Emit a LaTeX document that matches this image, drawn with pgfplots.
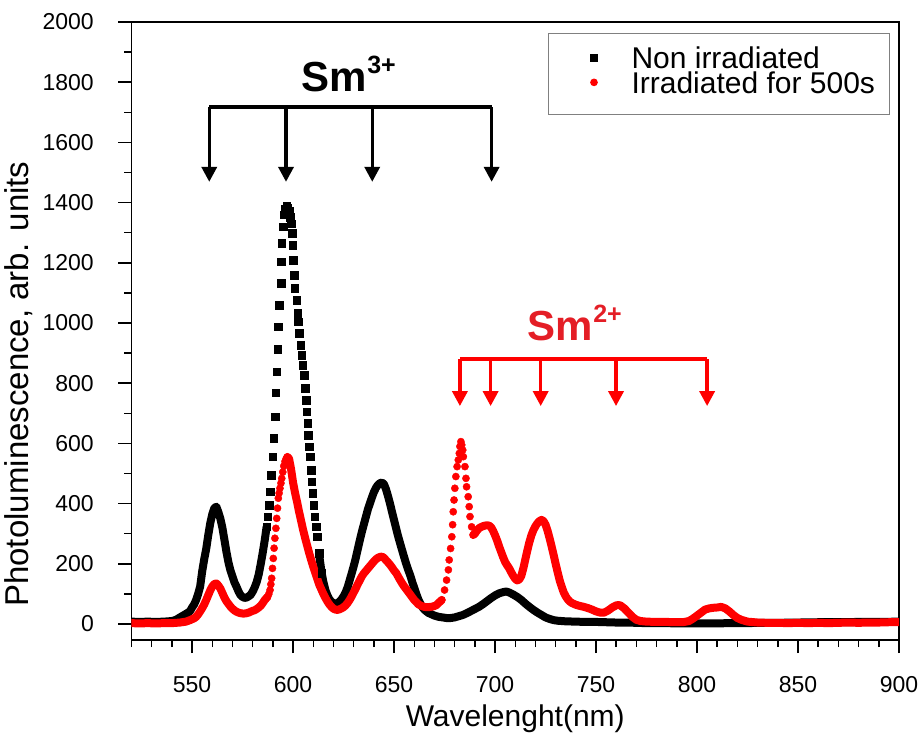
\documentclass[border=0pt]{standalone}
\usepackage{fontspec}
\setmainfont{Liberation Sans}
\usepackage{pgfplots}
\pgfplotsset{compat=1.18}
\usetikzlibrary{arrows.meta}
\definecolor{myred}{RGB}{255,0,0}
\definecolor{smred}{RGB}{228,30,38}
\pgfplotsset{legend image code/.code={\path (-30pt,0pt) (37pt,0pt); \draw[#1, mark size=3.3pt] plot coordinates {(0pt,4pt)};}}
\begin{document}
\begin{tikzpicture}
\path[use as bounding box] (-131.5pt,-96pt) rectangle (792.5pt,640pt);
\begin{axis}[
  at={(0pt,0pt)}, anchor=south west,
  scale only axis, width=767.5pt, height=618pt,
  xmin=520, xmax=900, ymin=-53, ymax=2000,
  axis line style={line width=1.6pt},
  xtick={550,600,...,900}, ytick={0,200,...,2000},
  minor xtick={520,530,...,900}, minor ytick={100,300,...,1900},
  xtick pos=bottom, ytick pos=left,
  tick align=outside, major tick length=13pt, minor tick length=7pt,
  every tick/.style={black, line width=1.5pt},
  /pgf/number format/assume math mode=true,
  /pgf/number format/1000 sep={},
  xticklabel style={font=\fontsize{23}{23}\selectfont, inner sep=0pt, yshift=-23pt},
  yticklabel style={font=\fontsize{23}{23}\selectfont, inner sep=0pt, xshift=-24.5pt},
  xlabel={Wavelenght(nm)},
  ylabel={Photoluminescence, arb. units},
  xlabel style={font=\fontsize{30}{30}\selectfont, at={(axis description cs:0.5,0)}, anchor=base, yshift=-86pt, inner sep=0pt},
  every axis y label/.style={at={(axis description cs:0,0.414)}, xshift=-103pt, rotate=90, anchor=base, inner sep=0pt, font=\fontsize{33}{33}\selectfont},
  legend style={at={(0.5427,0.982)}, anchor=north west, draw=gray, line width=1pt,
    inner xsep=15pt, inner ysep=16pt, row sep=0pt, column sep=0pt,
    font=\fontsize{30}{30}\selectfont,
    nodes={inner sep=0pt, text height=19pt, text depth=5.5pt}},
  legend cell align=left,
]
% ---------- Non irradiated (black) ----------
\addplot[draw=black, line width=8pt, line join=round, line cap=round, forget plot] table {
520 8
524 7
528 8
532 7
536 8
540 10
542 14
544 22
546 30
548 38
549 43
550 55
551 65
552 80
553 100
554 125
555 175
556 215
557 250
558 295
559 335
560 365
561 385
562 390
563 372
564 350
565 320
566 280
567 240
568 205
569 178
570 158
571 138
572 124
573 108
574 96
575 90
576 87
577 88
578 92
579 97
580 108
581 122
582 140
583 165
584 200
585 238
586 280
586.9 323
};
\addplot[only marks, mark=square*, mark size=3.8pt, black] table {
586.9 323
587.4 357
588.1 395
588.6 440
589.1 495
589.9 556
590.5 617
591.0 689
591.4 768
591.9 838
592.4 913
592.7 988
593.2 1060
594.0 1132
594.0 1204
594.4 1265
595.0 1320
595.6 1360
596.2 1380
596.8 1388
597.4 1382
598.0 1372
598.5 1352
599.0 1330
599.6 1298
599.8 1258
600.1 1209
600.6 1159
600.9 1115
601.8 1076
602.3 1032
602.6 1004
603.1 966
603.8 927
604.3 894
604.8 860
605.4 827
605.9 783
606.4 744
606.7 705
607.2 667
607.5 628
608.0 589
608.4 556
608.9 512
609.2 473
609.7 434
610.3 395
610.8 357
611.3 323
612.0 290
612.8 235
614.2 168
};
\addlegendentry{Non irradiated}
\addplot[draw=black, line width=8pt, line join=round, line cap=round, forget plot] table {
612.8 235
614.2 168
615 140
616 113
617 95
618 82
619 74
620 70
621 68
622 69
623 75
624 82
625 92
626 105
627 122
628 145
629 168
630 192
631 218
632 248
633 277
634 305
635 330
636 355
637 380
638 400
639 420
640 438
641 452
642 462
643 468
644 470
645 465
646 448
647 425
648 400
649 372
650 345
651 318
652 292
653 268
654 245
655 222
656 200
657 180
658 162
659 140
660 120
661 100
662 82
663 68
664 56
665 48
666 42
667 37
668 34
670 28
672 24
674 22
676 20
678 20
680 22
682 26
684 30
686 36
688 43
690 50
692 57
694 66
696 76
698 86
700 95
702 102
704 106
705.5 108
707 105
709 98
711 90
713 80
715 68
717 57
719 47
721 38
723 30
725 22
727 17
729 13
731 11
735 9
740 8
745 7
750 7
755 6
760 5
765 5
770 4
775 3
780 3
785 3
790 2
795 2
800 2
805 2
810 2
815 3
820 3
825 3
830 4
840 4
850 5
860 6
870 6
880 7
890 7
900 8
};
% ---------- Irradiated (red) ----------
\addplot[draw=myred, line width=8pt, line join=round, line cap=round, forget plot] table {
520 3
524 2
528 3
532 2
536 3
540 3
544 5
547 8
549 13
551 19
552 24
553 32
554 42
555 53
556 65
557 80
558 96
559 112
560 125
561 133
562 135
563 128
564 118
565 103
566 88
567 76
568 67
569 58
570 51
571 45
572 41
573 38
574 36
575 35
576 35
577 36
578 38
579 41
580 44
581 46
582 50
583 55
584 61
585 70
586 80
587.3 90
};
\addplot[only marks, mark=*, mark size=3.6pt, myred] table {
587.3 90
588.0 100
588.6 113
589.0 132
589.4 152
589.8 185
590.2 218
590.6 252
591.0 285
591.5 318
591.9 351
592.3 385
592.7 418
593.1 435
593.5 451
594.0 468
594.4 484
594.9 505
595.4 525
596.0 540
596.6 550
597.2 555
673.6 80
675.0 113
676.0 146
676.9 180
677.3 213
678.0 251
678.6 290
679.0 330
679.3 373
679.7 412
680.1 451
680.6 490
681.2 523
681.8 545
682.3 567
682.6 590
683.1 606
683.5 595
684.0 578
684.3 556
685.1 523
685.6 484
685.9 456
686.7 423
687.2 390
687.6 357
688.4 323
689.2 296
};
\addlegendentry{Irradiated for 500s}
\addplot[draw=myred, line width=8pt, line join=round, line cap=round, forget plot] table {
597.2 555
598 550
599 515
600 470
601 435
602 405
603 372
604 342
605 312
606 285
607 260
608 235
609 212
610 190
611 170
612 150
613 130
614 115
615 100
616 87
617 75
618 65
619 57
620 51
621 48
622 47
623 49
624 52
625 56
626 62
627 70
628 80
629 92
630 105
631 118
632 132
633 145
634 158
635 168
636 176
637 184
638 192
639 200
640 208
641 215
642 220
643 223
644 224
645 220
646 212
647 205
648 197
649 188
650 178
651 170
652 158
653 146
654 135
655 125
656 116
657 107
658 98
659 89
660 80
661 73
662 66
663 62
664 59
665 57
666 56
667 56
668 57
669 58
670 60
671 63
672 70
673 76
673.6 80
};
\addplot[draw=myred, line width=8pt, line join=round, line cap=round, forget plot] table {
689.2 296
690 300
691 310
692 318
693 322
694 325
695 327
696 328
697 327
698 322
699 310
700 295
701 278
702 258
703 240
704 222
705 206
706 195
707 185
708 172
709 160
710 150
711 145
712 148
713 160
714 185
715 215
716 245
717 272
718 295
719 312
720 325
721 335
722 342
723 346
724 342
725 330
726 310
727 285
728 258
729 230
730 200
731 172
732 145
733 124
734 105
735 92
736 82
737 75
738 70
740 64
742 60
744 57
746 53
748 48
750 42
752 38
754 38
756 45
758 55
760 62
761 63
762 62
764 52
766 38
768 24
770 14
772 10
775 8
780 7
785 7
790 6
793 6
796 10
798 18
800 28
802 38
804 48
806 52
808 54
810 55
812 57
814 52
816 42
818 30
820 20
822 14
825 8
830 5
835 4
840 4
845 3
850 4
855 3
860 4
865 3
870 4
875 5
880 4
885 5
890 5
895 6
900 6
};
% ---------- annotations ----------
\draw[black, line width=3.5pt, line cap=square] (axis cs:558.5,1717) -- (axis cs:698.3,1717);
\draw[black, line width=3.5pt, -{Triangle[width=15pt,length=15pt]}] (axis cs:558.5,1717) -- (axis cs:558.5,1469);
\draw[black, line width=3.5pt, -{Triangle[width=15pt,length=15pt]}] (axis cs:596.5,1717) -- (axis cs:596.5,1469);
\draw[black, line width=3.5pt, -{Triangle[width=15pt,length=15pt]}] (axis cs:639.2,1717) -- (axis cs:639.2,1469);
\draw[black, line width=3.5pt, -{Triangle[width=15pt,length=15pt]}] (axis cs:698.3,1717) -- (axis cs:698.3,1469);
\node[anchor=base west, inner sep=0pt, font=\bfseries] at (axis cs:604.3,1768)
  {\fontsize{42}{42}\selectfont Sm\raisebox{18pt}{\fontsize{25}{25}\selectfont 3+}};
\draw[myred, line width=3.5pt, line cap=square] (axis cs:682.6,880) -- (axis cs:805,880);
\draw[myred, line width=3.5pt, -{Triangle[width=15pt,length=15pt]}] (axis cs:682.6,880) -- (axis cs:682.6,724);
\draw[myred, line width=3.5pt, -{Triangle[width=15pt,length=15pt]}] (axis cs:697.8,880) -- (axis cs:697.8,724);
\draw[myred, line width=3.5pt, -{Triangle[width=15pt,length=15pt]}] (axis cs:722.6,880) -- (axis cs:722.6,724);
\draw[myred, line width=3.5pt, -{Triangle[width=15pt,length=15pt]}] (axis cs:759.9,880) -- (axis cs:759.9,724);
\draw[myred, line width=3.5pt, -{Triangle[width=15pt,length=15pt]}] (axis cs:805,880) -- (axis cs:805,724);
\node[anchor=base west, inner sep=0pt, font=\bfseries, text=smred] at (axis cs:716.2,943.5)
  {\fontsize{42}{42}\selectfont Sm\raisebox{18pt}{\fontsize{25}{25}\selectfont 2+}};
\end{axis}
\end{tikzpicture}
\end{document}
